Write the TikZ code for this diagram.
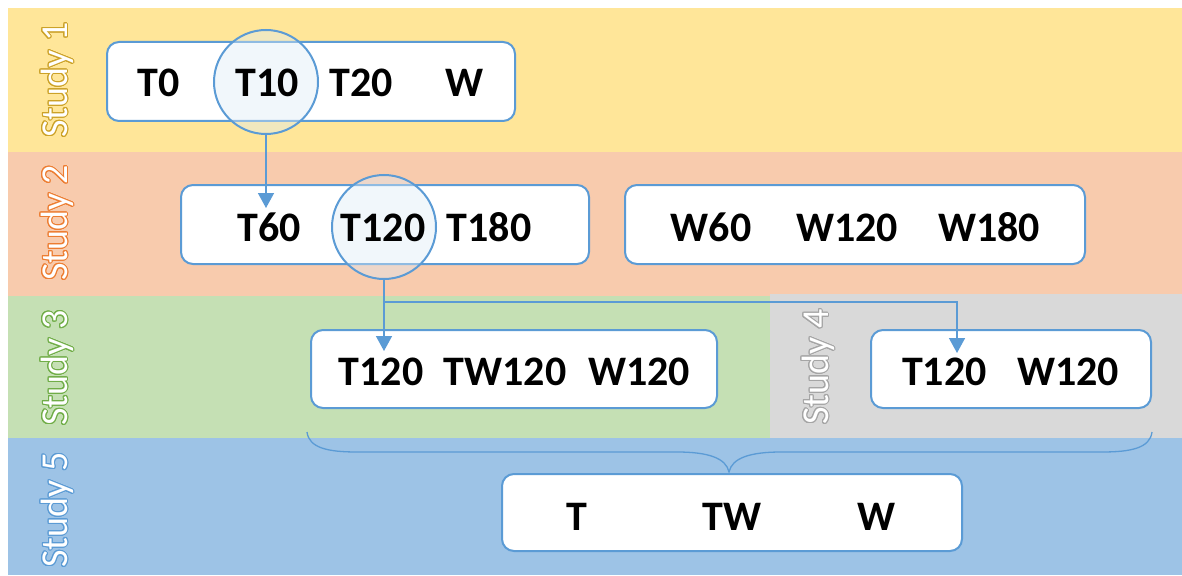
\documentclass[tikz,border=0pt]{standalone}
\usepackage{fontspec}
\setmainfont{Carlito}
\usetikzlibrary{arrows.meta,calc}
\definecolor{band1}{RGB}{255,230,153}
\definecolor{band2}{RGB}{248,203,173}
\definecolor{band3}{RGB}{197,224,180}
\definecolor{band4}{RGB}{217,217,217}
\definecolor{band5}{RGB}{157,195,230}
\definecolor{lineblue}{RGB}{91,155,213}
\definecolor{out1}{RGB}{204,162,40}
\definecolor{out2}{RGB}{237,125,49}
\definecolor{out3}{RGB}{112,173,71}
\definecolor{out4}{RGB}{165,165,165}
\definecolor{out5}{RGB}{91,155,213}
\definecolor{circfill}{RGB}{222,235,247}
\tikzset{
 box/.style={draw=lineblue, line width=2pt, fill=white, rounded corners=12pt, inner sep=0pt},
 lbl/.style={font=\fontsize{42}{42}\selectfont\bfseries, anchor=base, inner sep=0pt},
 ring/.style={circle, draw=lineblue, line width=2pt, fill=circfill, fill opacity=0.4, minimum size=104pt, inner sep=0pt},
 conn/.style={draw=lineblue, line width=1.5pt},
 arr/.style={conn, -{Triangle[width=16pt,length=15pt]}},
 studyfont/.style={font=\fontsize{38}{38}\selectfont, rotate=90, inner sep=0pt},
}
\newcommand\studylabel[4]{%
  \foreach \a in {0,22.5,...,337.5}{\node[studyfont, text=#3] at ($(#2)+(\a:1.1pt)$) {#4};}
  \node[studyfont, text=white] (#1) at (#2) {#4};
}
\begin{document}
\begin{tikzpicture}[x=1pt,y=-1pt]
\useasboundingbox (0,0) rectangle (1182,575);
% bands
\fill[band1] (8,8) rectangle (1182,152);
\fill[band2] (8,152) rectangle (1182,296);
\fill[band3] (8,296) rectangle (770,438);
\fill[band4] (770,294) rectangle (1182,438);
\fill[band5] (8,438) rectangle (1182,575);
% study labels
\studylabel{s1}{57,80}{out1}{Study 1}
\studylabel{s2}{57,223}{out2}{Study 2}
\studylabel{s3}{57,368}{out3}{Study 3}
\studylabel{s4}{818,367}{out4}{Study 4}
\studylabel{s5}{57,510}{out5}{Study 5}
% boxes
\node[box, minimum width=408pt, minimum height=79pt] (b1) at (311,81.5) {};
\node[box, minimum width=408pt, minimum height=79pt] (b2) at (385,224.5) {};
\node[box, minimum width=460pt, minimum height=79pt] (b3) at (855,224.5) {};
\node[box, minimum width=406pt, minimum height=78pt] (b4) at (514,369) {};
\node[box, minimum width=280pt, minimum height=78pt] (b5) at (1011,369) {};
\node[box, minimum width=460pt, minimum height=77pt] (b6) at (732,512.5) {};
% circles
\node[ring] (c1) at (266,82) {};
\node[ring] (c2) at (384,227) {};
% texts
\node[lbl] (t0) at (159,97) {T0};
\node[lbl] (t10) at (267.5,97) {T10};
\node[lbl] (t20) at (361,97) {T20};
\node[lbl] (w) at (465,97) {W};
\node[lbl] (t60) at (269,241) {T60};
\node[lbl] (t120a) at (383,241) {T120};
\node[lbl] (t180) at (489,241) {T180};
\node[lbl] (w60) at (711,241) {W60};
\node[lbl] (w120a) at (847,241) {W120};
\node[lbl] (w180) at (989,241) {W180};
\node[lbl] (t120b) at (381,385) {T120};
\node[lbl] (tw120) at (505,385) {TW120};
\node[lbl] (w120b) at (639,385) {W120};
\node[lbl] (t120c) at (944.5,385) {T120};
\node[lbl] (w120c) at (1068,385) {W120};
\node[lbl] (t) at (577,530) {T};
\node[lbl] (tw) at (732,530) {TW};
\node[lbl] (ww) at (877,530) {W};
% connectors
\coordinate (a1) at (266,208);
\draw[arr] (c1.south) -- (a1);
\coordinate (j) at (384,302);
\coordinate (a2) at (384,351);
\coordinate (a3) at (957,353);
\draw[conn] (c2.south) -- (j);
\draw[arr] (j) -- (a2);
\draw[arr] (j) -| (a3);
% brace
\draw[conn, line width=1.3pt] (307,432) .. controls (309,448) and (328,452) .. (357,452) -- (677,452)
  .. controls (708,452) and (726,458) .. (729,472)
  .. controls (732,458) and (750,452) .. (781,452) -- (1102,452)
  .. controls (1131,452) and (1150,448) .. (1152,432);
\end{tikzpicture}
\end{document}
